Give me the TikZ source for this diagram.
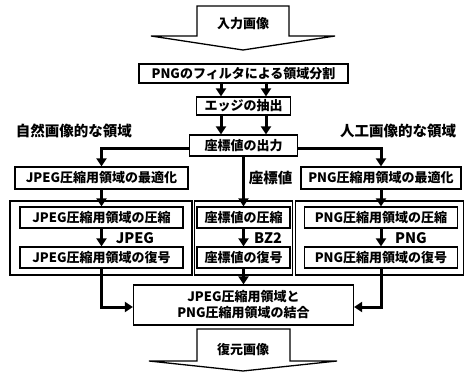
\documentclass[tikz,border=0pt]{standalone}
\usepackage{fontspec}
\setmainfont{Noto Sans CJK JP}
\usetikzlibrary{arrows.meta}
\begin{document}
\begin{tikzpicture}[x=1pt,y=-1pt,
  box/.style={draw,line width=1.3pt,minimum height=21pt,inner sep=0pt,
    font=\fontsize{13}{16}\selectfont\bfseries},
  panel/.style={draw,line width=1.3pt},
  flow/.style={line width=3pt,-{Triangle[width=10pt,length=8pt]}},
  tag/.style={inner sep=0pt,font=\fontsize{13}{16}\selectfont\bfseries},
  bigtag/.style={inner sep=0pt,font=\fontsize{14.5}{17}\selectfont\bfseries},
  bigarrow/.style={draw,line width=1.3pt,line join=miter,fill=white}]
\useasboundingbox (0,0) rectangle (464,372);
% input / output arrows
\draw[bigarrow] (197,6) -- (289,6) -- (289,36) -- (335,36) -- (243,50) -- (151,36) -- (197,36) -- cycle;
\node[tag] (input) at (243,24) {入力画像};
\draw[bigarrow] (197,329) -- (290,329) -- (290,361) -- (337,361) -- (243,371) -- (149,361) -- (197,361) -- cycle;
\node[tag] (output) at (243,350) {復元画像};
% main boxes
\node[box,minimum width=209pt,minimum height=19pt] (split) at (243.5,73.5) {PNGのフィルタによる領域分割};
\node[box,minimum width=94pt,minimum height=18pt] (edge) at (243.5,106) {エッジの抽出};
\node[box,minimum width=108pt] (coord) at (243.5,145.5) {座標値の出力};
\node[bigtag] (natural) at (74,131) {自然画像的な領域};
\node[bigtag] (artificial) at (398,131) {人工画像的な領域};
\node[box,minimum width=173pt,minimum height=22pt] (jopt) at (101.5,178) {JPEG圧縮用領域の最適化};
\node[box,minimum width=160pt,minimum height=22pt] (popt) at (381,178) {PNG圧縮用領域の最適化};
\node[bigtag] (cval) at (270.5,178) {座標値};
% panels
\draw[panel] (10,201) rectangle (192,275);
\draw[panel] (194.5,201) rectangle (292.5,275);
\draw[panel] (295.5,201) rectangle (463.5,275);
\node[box,minimum width=163pt] (jcomp) at (101.5,217.5) {JPEG圧縮用領域の圧縮};
\node[box,minimum width=93pt] (ccomp) at (243.5,217.5) {座標値の圧縮};
\node[box,minimum width=153pt] (pcomp) at (381,217.5) {PNG圧縮用領域の圧縮};
\node[box,minimum width=163pt] (jdec) at (101.5,257.5) {JPEG圧縮用領域の復号};
\node[box,minimum width=93pt] (cdec) at (243.5,257.5) {座標値の復号};
\node[box,minimum width=153pt] (pdec) at (381,257.5) {PNG圧縮用領域の復号};
\node[bigtag] (jfmt) at (135,238) {JPEG};
\node[bigtag] (cfmt) at (268,238) {BZ2};
\node[bigtag] (pfmt) at (411,238) {PNG};
\node[box,minimum width=220pt,minimum height=40pt,align=center] (merge) at (243.5,305) {JPEG圧縮用領域と\\PNG圧縮用領域の結合};
% connectors
\draw[flow] ([xshift=-22.5pt]split.south) -- ([xshift=-22.5pt]edge.north);
\draw[flow] ([xshift=22.5pt]split.south) -- ([xshift=22.5pt]edge.north);
\draw[flow] ([xshift=-22.5pt]edge.south) -- ([xshift=-22.5pt]coord.north);
\draw[flow] ([xshift=22.5pt]edge.south) -- ([xshift=22.5pt]coord.north);
\draw[flow] ([yshift=-3pt]coord.west) -| (jopt.north);
\draw[flow] ([yshift=-3pt]coord.east) -| (popt.north);
\draw[flow] (coord.south) -- (ccomp.north);
\draw[flow] (jopt.south) -- (jcomp.north);
\draw[flow] (popt.south) -- (pcomp.north);
\draw[flow] (jcomp.south) -- (jdec.north);
\draw[flow] (ccomp.south) -- (cdec.north);
\draw[flow] (pcomp.south) -- (pdec.north);
\draw[flow] (jdec.south) |- ([yshift=-2pt]merge.west);
\draw[flow] (cdec.south) -- (merge.north);
\draw[flow] (pdec.south) |- ([yshift=-2pt]merge.east);
\end{tikzpicture}
\end{document}
